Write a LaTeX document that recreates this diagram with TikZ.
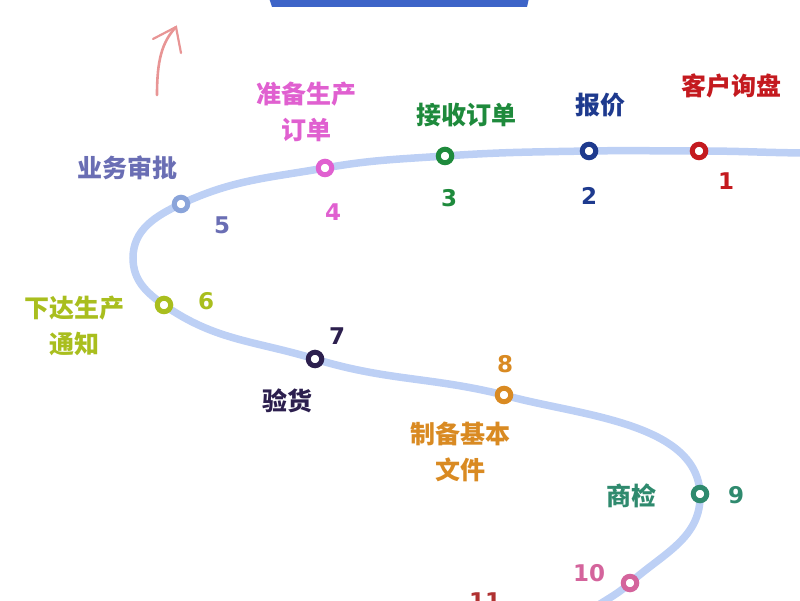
\documentclass[tikz,border=0pt]{standalone}
\usepackage{fontspec}
\newfontfamily\cjk{Noto Sans CJK SC}
\newfontfamily\numfont{DejaVu Sans}
\definecolor{track}{HTML}{BDD0F5}
\definecolor{bar}{HTML}{3D64C8}
\definecolor{arrowpink}{HTML}{E89595}
\definecolor{cA}{HTML}{C41A1F}
\definecolor{cB}{HTML}{1E3A8E}
\definecolor{cC}{HTML}{1E8A3C}
\definecolor{cD}{HTML}{E060D0}
\definecolor{cE}{HTML}{6A6EB4}
\definecolor{cEdot}{HTML}{8AA4DA}
\definecolor{cF}{HTML}{A9BE1E}
\definecolor{cG}{HTML}{2C1F4E}
\definecolor{cH}{HTML}{D98A22}
\definecolor{cI}{HTML}{2F8A6E}
\definecolor{cJ}{HTML}{D4649C}
\definecolor{cK}{HTML}{B03232}
\tikzset{
  stop/.style={circle, draw=#1, fill=white, line width=5pt, minimum size=13.5pt, inner sep=0pt},
  lbl/.style={text=#1, font=\cjk\bfseries\fontsize{25}{36}\selectfont, align=center, inner sep=0pt},
  num/.style={text=#1, font=\numfont\bfseries\fontsize{23}{26}\selectfont, inner sep=0pt},
  trackline/.style={draw=track, line width=7.5pt, line cap=round}
}
\begin{document}
\begin{tikzpicture}[x=1pt,y=1pt]
\useasboundingbox (0,0) rectangle (800,600);
\clip (0,0) rectangle (800,600);
% top bar
\fill[bar] (269,602) -- (529,602) -- (527,593) -- (272,593) -- cycle;
% pink arrow
\coordinate (ab) at (157,505);
\coordinate (at) at (176,573);
\coordinate (al) at (153,561);
\coordinate (ar) at (181,547);
\draw[arrowpink, line width=2.6pt, line cap=round] (ab) .. controls (157,540) and (162,558) .. (at);
\draw[arrowpink, line width=2.2pt, line cap=round] (al) -- (at) -- (ar);
% track coordinates
\coordinate (s) at (815,447);
\coordinate (p1) at (699,449);
\coordinate (p2) at (589,449);
\coordinate (p3) at (445,444);
\coordinate (p4) at (325,432);
\coordinate (p5) at (181,396);
\coordinate (pa) at (133,342);
\coordinate (p6) at (164,295);
\coordinate (p7) at (315,241);
\coordinate (p8) at (504,205);
\coordinate (p9) at (700,106);
\coordinate (p10) at (630,17);
\coordinate (pe) at (585,-15);
\draw[trackline] (s) to[out=180,in=0] (p1)
  to[out=180,in=1] (p2)
  to[out=181,in=4] (p3)
  to[out=184,in=10] (p4)
  to[out=190,in=25] (p5)
  to[out=205,in=90] (pa)
  to[out=270,in=145] (p6)
  to[out=-35,in=163] (p7)
  to[out=-17,in=166] (p8)
  to[out=-16,in=92,looseness=0.85] (p9)
  to[out=-88,in=42] (p10)
  to[out=222,in=40] (pe);
% stops
\node[stop=cA] (n1) at (p1) {};
\node[stop=cB] (n2) at (p2) {};
\node[stop=cC] (n3) at (p3) {};
\node[stop=cD] (n4) at (p4) {};
\node[stop=cEdot] (n5) at (p5) {};
\node[stop=cF] (n6) at (p6) {};
\node[stop=cG] (n7) at (p7) {};
\node[stop=cH] (n8) at (p8) {};
\node[stop=cI] (n9) at (p9) {};
\node[stop=cJ] (n10) at (p10) {};
% labels
\node[lbl=cA] (l1) at (731,514) {客户询盘};
\node[lbl=cB] (l2) at (600,495) {报价};
\node[lbl=cC] (l3) at (466,485) {接收订单};
\node[lbl=cD] (l4) at (306,488) {准备生产\\订单};
\node[lbl=cE] (l5) at (127,432) {业务审批};
\node[lbl=cF] (l6) at (74,274) {下达生产\\通知};
\node[lbl=cG] (l7) at (287,199) {验货};
\node[lbl=cH] (l8) at (460,148) {制备基本\\文件};
\node[lbl=cI] (l9) at (631,104) {商检};
% numbers
\node[num=cA] (d1) at (726,419) {1};
\node[num=cB] (d2) at (589,404) {2};
\node[num=cC] (d3) at (449,402) {3};
\node[num=cD] (d4) at (333,388) {4};
\node[num=cE] (d5) at (222,375) {5};
\node[num=cF] (d6) at (206,299) {6};
\node[num=cG] (d7) at (337,264) {7};
\node[num=cH] (d8) at (505,236) {8};
\node[num=cI] (d9) at (736,105) {9};
\node[num=cJ] (d10) at (589,27) {10};
\node[num=cK] (d11) at (485,-1) {11};
\end{tikzpicture}
\end{document}
